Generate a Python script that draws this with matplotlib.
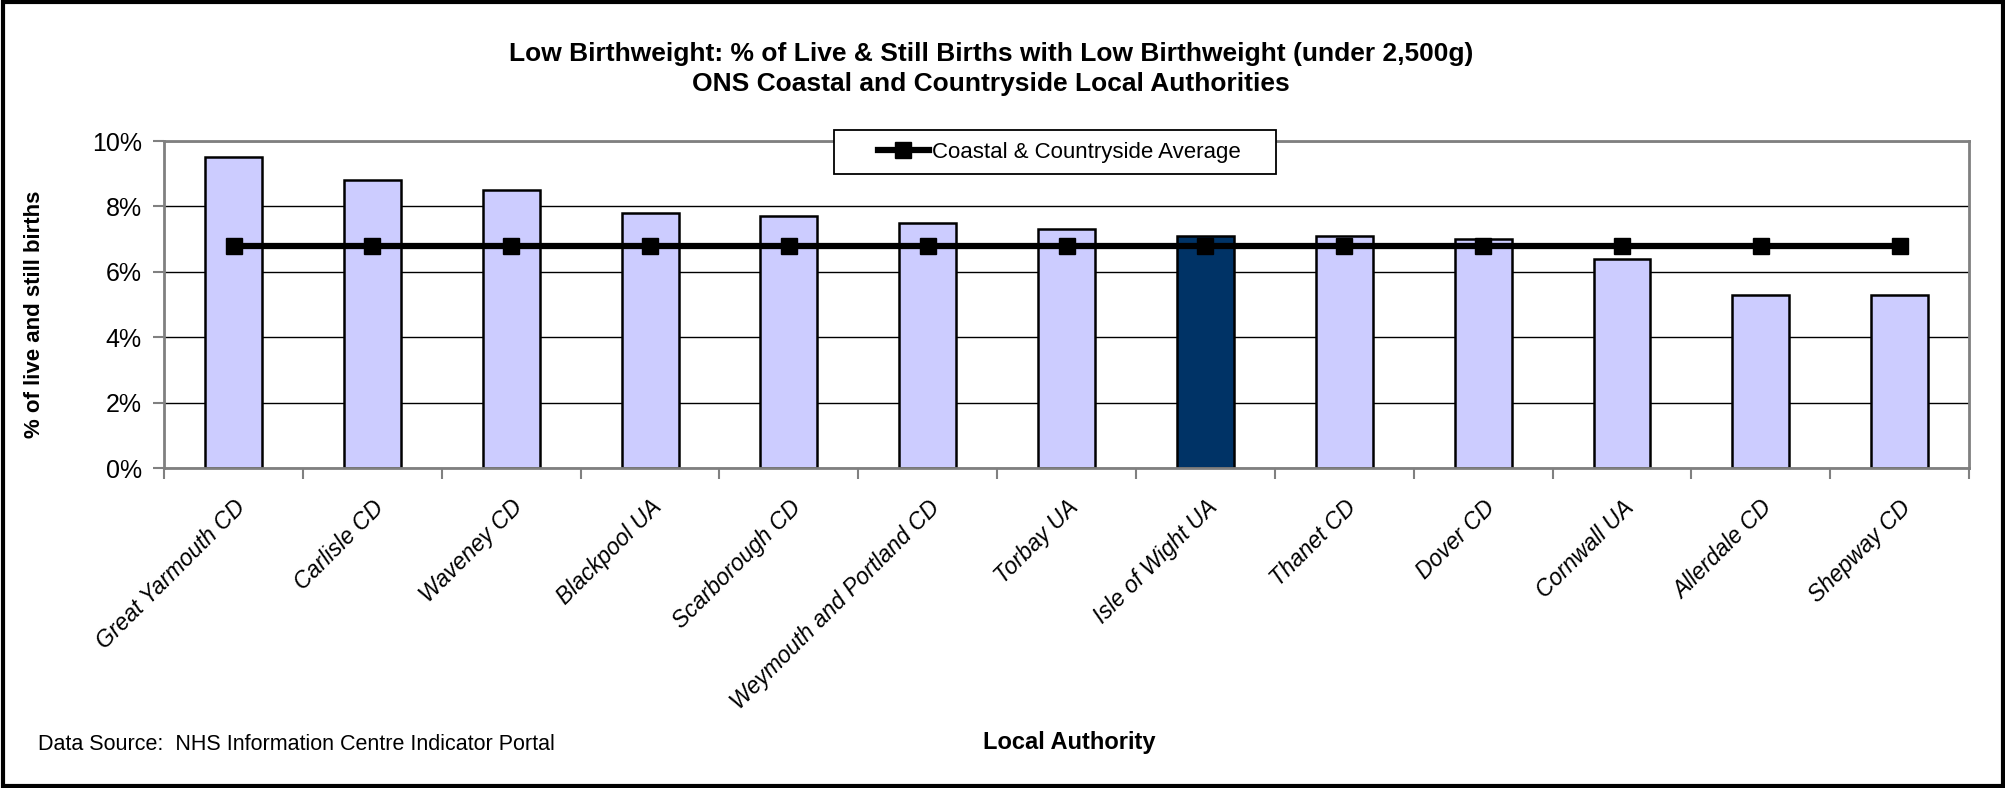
import numpy as np
import matplotlib.pyplot as plt
from matplotlib.patches import Rectangle

# Datos
autoridades = ["Great Yarmouth CD", "Carlisle CD", "Waveney CD", "Blackpool UA",
               "Scarborough CD", "Weymouth and Portland CD", "Torbay UA",
               "Isle of Wight UA", "Thanet CD", "Dover CD", "Cornwall UA",
               "Allerdale CD", "Shepway CD"]
bajo_peso = [9.5, 8.8, 8.5, 7.8, 7.7, 7.5, 7.3, 7.1, 7.1, 7.0, 6.4, 5.3, 5.3]
promedio = [6.8] * len(autoridades)
destacado = "Isle of Wight UA"

plt.rcParams['font.family'] = ['Liberation Sans', 'DejaVu Sans']

fig = plt.figure(figsize=(20.06, 7.88), dpi=100)
ax = fig.add_axes([0.0818, 0.406, 0.8998, 0.415])

x = np.arange(len(autoridades))
colores = ['#003366' if a == destacado else '#CCCCFF' for a in autoridades]
ax.bar(x, bajo_peso, width=0.41, color=colores, edgecolor='black', linewidth=1.8, zorder=2)
ax.plot(x, promedio, color='black', linewidth=4.5, marker='s', markersize=11,
        label='Coastal & Countryside Average', zorder=3)

ax.set_xlim(-0.5, len(autoridades) - 0.5)
ax.set_ylim(0, 10)
ax.set_yticks(range(0, 11, 2))
ax.set_yticklabels([f"{v}%" for v in range(0, 11, 2)], fontsize=18)
ax.set_xticks(np.arange(len(autoridades) + 1) - 0.5, minor=False)
ax.set_xticklabels([])
ax.set_xticks(x, minor=True)
ax.set_xticklabels(autoridades, minor=True, rotation=45, ha='right', va='top',
                   rotation_mode='anchor', fontsize=16.5, style='italic')
ax.tick_params(axis='x', which='minor', length=0, pad=20)
ax.tick_params(axis='x', which='major', length=8, color='#808080', width=1.5)
ax.tick_params(axis='y', length=8, color='#808080', width=1.5, pad=8)
ax.grid(axis='y', color='black', linewidth=1.0, zorder=0)
ax.set_axisbelow(True)
for s in ax.spines.values():
    s.set_color('#808080')
    s.set_linewidth(2)

ax.set_ylabel('% of live and still births', fontsize=16, fontweight='bold')
ax.yaxis.set_label_coords(-0.066, 0.47)

fig.text(0.494, 0.931, 'Low Birthweight: % of Live & Still Births with Low Birthweight (under 2,500g)',
         ha='center', va='center', fontsize=19, fontweight='bold')
fig.text(0.494, 0.894, 'ONS Coastal and Countryside Local Authorities',
         ha='center', va='center', fontsize=19, fontweight='bold')
fig.text(0.533, 0.058, 'Local Authority', ha='center', va='center', fontsize=17, fontweight='bold')
fig.text(0.019, 0.055, 'Data Source:  NHS Information Centre Indicator Portal',
         ha='left', va='center', fontsize=15.5)

# Leyenda: caja dibujada aparte para reproducir su anchura
ax.add_patch(Rectangle((0.4157, 0.779), 0.2204, 0.056, transform=fig.transFigure,
                       facecolor='white', edgecolor='black', linewidth=1.3,
                       zorder=5, clip_on=False))
leg = ax.legend(loc='center', bbox_to_anchor=(0.528, 0.807), bbox_transform=fig.transFigure,
                fontsize=16, frameon=False, handlelength=2.3, handletextpad=0.15,
                borderpad=0, borderaxespad=0)
leg.set_zorder(6)

fig.add_artist(Rectangle((0.0015, 0.003), 0.997, 0.994, transform=fig.transFigure,
                         fill=False, edgecolor='black', linewidth=3))

plt.savefig('out.png', dpi=100)
plt.close()
